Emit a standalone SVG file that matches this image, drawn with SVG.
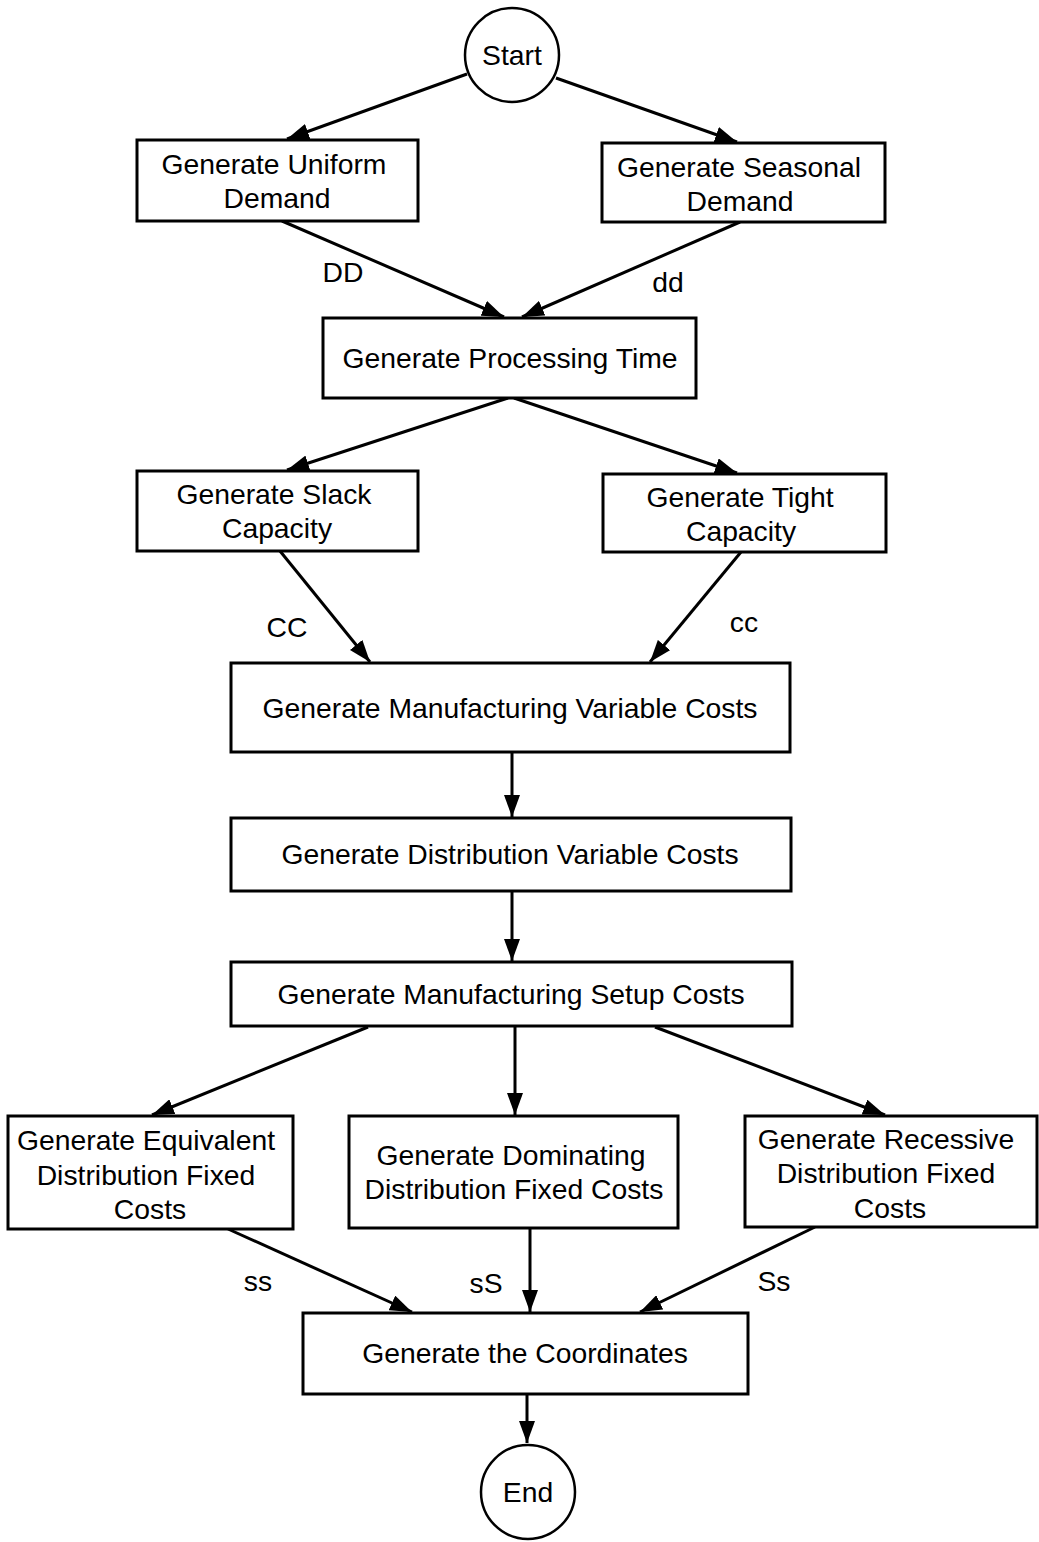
<svg xmlns="http://www.w3.org/2000/svg" width="1039" height="1542" viewBox="0 0 1039 1542">
  <defs>
    <marker id="arrow" viewBox="0 0 22 16" refX="22" refY="8" markerWidth="22" markerHeight="16" markerUnits="userSpaceOnUse" orient="auto">
      <path d="M0,0 L22,8 L0,16 z" fill="#000"/>
    </marker>
    <style>
      .box { fill: #fff; stroke: #000; stroke-width: 3; }
      .term { fill: #fff; stroke: #000; stroke-width: 2.5; }
      .lbl { font-family: "Liberation Sans", Arial, sans-serif; font-size: 28.3px; fill: #000; text-anchor: middle; }
      .edge { stroke: #000; stroke-width: 3; fill: none; marker-end: url(#arrow); }
    </style>
  </defs>
  <rect width="1039" height="1542" fill="#fff"/>

  <!-- connectors -->
  <g id="connectors">
    <line class="edge" x1="467" y1="74" x2="287" y2="139"/>
    <line class="edge" x1="556" y1="78" x2="737" y2="142"/>
    <line class="edge" x1="282" y1="221" x2="504" y2="317"/>
    <line class="edge" x1="740" y1="222" x2="522" y2="317"/>
    <line class="edge" x1="508" y1="398" x2="287" y2="470"/>
    <line class="edge" x1="514" y1="398" x2="737" y2="473"/>
    <line class="edge" x1="280" y1="551" x2="370" y2="662"/>
    <line class="edge" x1="741" y1="552" x2="650" y2="662"/>
    <line class="edge" x1="512" y1="752" x2="512" y2="817"/>
    <line class="edge" x1="512" y1="891" x2="512" y2="961"/>
    <line class="edge" x1="368" y1="1027" x2="152" y2="1115"/>
    <line class="edge" x1="515" y1="1027" x2="515" y2="1115"/>
    <line class="edge" x1="655" y1="1027" x2="885" y2="1115"/>
    <line class="edge" x1="228" y1="1229" x2="412" y2="1312"/>
    <line class="edge" x1="530" y1="1228" x2="530" y2="1312"/>
    <line class="edge" x1="815" y1="1227" x2="640" y2="1312"/>
    <line class="edge" x1="527" y1="1394" x2="527" y2="1443"/>
    <text class="lbl" x="343" y="282">DD</text>
    <text class="lbl" x="668" y="292">dd</text>
    <text class="lbl" x="287" y="637">CC</text>
    <text class="lbl" x="744" y="632">cc</text>
    <text class="lbl" x="258" y="1291">ss</text>
    <text class="lbl" x="486" y="1293">sS</text>
    <text class="lbl" x="774" y="1291">Ss</text>
  </g>

  <g id="start">
    <ellipse class="term" cx="512" cy="55" rx="47" ry="47"/>
    <text class="lbl" x="512" y="65">Start</text>
  </g>

  <g id="uniform-demand">
    <rect class="box" x="137" y="140" width="281" height="81"/>
    <text class="lbl" x="274" y="174">Generate Uniform</text>
    <text class="lbl" x="277" y="208">Demand</text>
  </g>

  <g id="seasonal-demand">
    <rect class="box" x="602" y="143" width="283" height="79"/>
    <text class="lbl" x="739" y="177">Generate Seasonal</text>
    <text class="lbl" x="740" y="211">Demand</text>
  </g>

  <g id="processing-time">
    <rect class="box" x="323" y="318" width="373" height="80"/>
    <text class="lbl" x="510" y="368">Generate Processing Time</text>
  </g>

  <g id="slack-capacity">
    <rect class="box" x="137" y="471" width="281" height="80"/>
    <text class="lbl" x="274" y="504">Generate Slack</text>
    <text class="lbl" x="277" y="538">Capacity</text>
  </g>

  <g id="tight-capacity">
    <rect class="box" x="603" y="474" width="283" height="78"/>
    <text class="lbl" x="740" y="507">Generate Tight</text>
    <text class="lbl" x="741" y="541">Capacity</text>
  </g>

  <g id="manufacturing-variable-costs">
    <rect class="box" x="231" y="663" width="559" height="89"/>
    <text class="lbl" x="510" y="718">Generate Manufacturing Variable Costs</text>
  </g>

  <g id="distribution-variable-costs">
    <rect class="box" x="231" y="818" width="560" height="73"/>
    <text class="lbl" x="510" y="864">Generate Distribution Variable Costs</text>
  </g>

  <g id="manufacturing-setup-costs">
    <rect class="box" x="231" y="962" width="561" height="64"/>
    <text class="lbl" x="511" y="1004">Generate Manufacturing Setup Costs</text>
  </g>

  <g id="equivalent-fixed-costs">
    <rect class="box" x="8" y="1116" width="285" height="113"/>
    <text class="lbl" x="146" y="1150">Generate Equivalent</text>
    <text class="lbl" x="146" y="1185">Distribution Fixed</text>
    <text class="lbl" x="150" y="1219">Costs</text>
  </g>

  <g id="dominating-fixed-costs">
    <rect class="box" x="349" y="1116" width="329" height="112"/>
    <text class="lbl" x="511" y="1165">Generate Dominating</text>
    <text class="lbl" x="514" y="1199">Distribution Fixed Costs</text>
  </g>

  <g id="recessive-fixed-costs">
    <rect class="box" x="745" y="1116" width="292" height="111"/>
    <text class="lbl" x="886" y="1149">Generate Recessive</text>
    <text class="lbl" x="886" y="1183">Distribution Fixed</text>
    <text class="lbl" x="890" y="1218">Costs</text>
  </g>

  <g id="coordinates">
    <rect class="box" x="303" y="1313" width="445" height="81"/>
    <text class="lbl" x="525" y="1363">Generate the Coordinates</text>
  </g>

  <g id="end">
    <ellipse class="term" cx="528" cy="1492" rx="47" ry="47"/>
    <text class="lbl" x="528" y="1502">End</text>
  </g>
</svg>
